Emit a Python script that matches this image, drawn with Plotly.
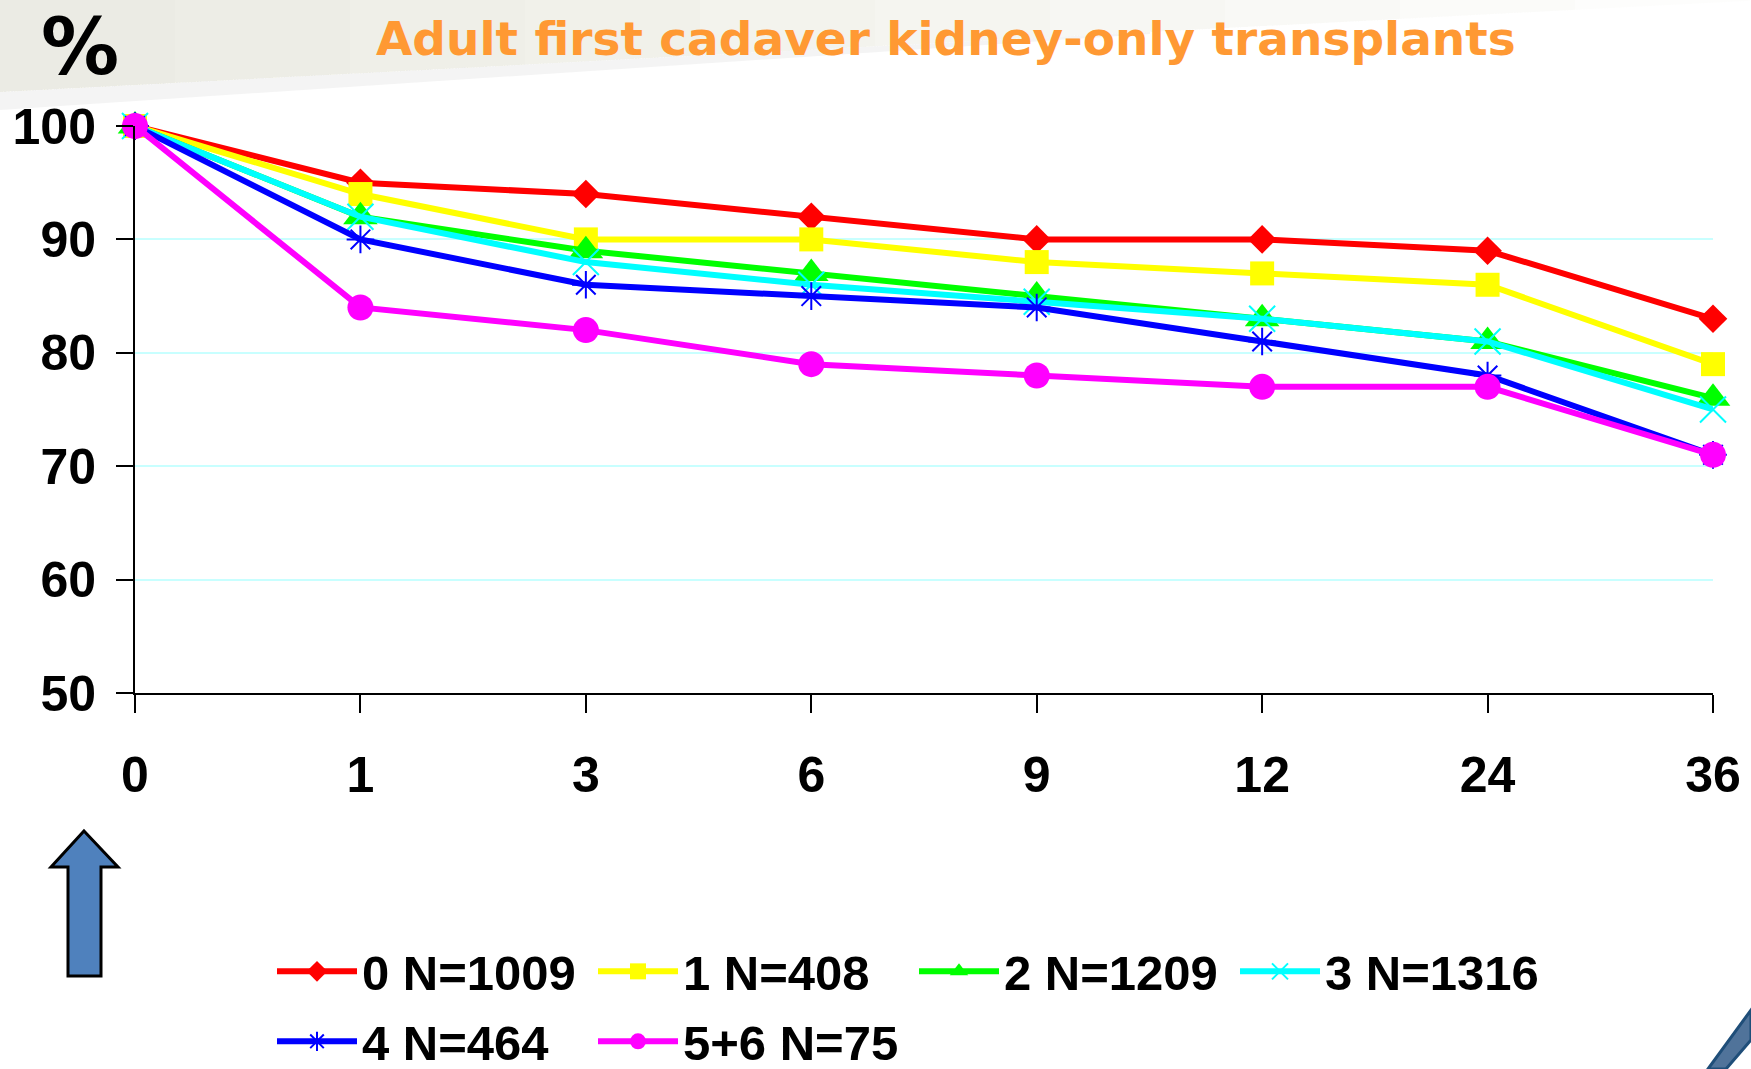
import plotly.graph_objects as go

# ---- data ----
months = ["0", "1", "3", "6", "9", "12", "24", "36"]
series_names = ["0 N=1009", "1 N=408", "2 N=1209", "3 N=1316", "4 N=464", "5+6 N=75"]
mm0 = [100, 95, 94, 92, 90, 90, 89, 83]
mm1 = [100, 94, 90, 90, 88, 87, 86, 79]
mm2 = [100, 92, 89, 87, 85, 83, 81, 76]
mm3 = [100, 92, 88, 86, 84.5, 83, 81, 75]
mm4 = [100, 90, 86, 85, 84, 81, 78, 71]
mm56 = [100, 84, 82, 79, 78, 77, 77, 71]
y_ticks = [50, 60, 70, 80, 90, 100]

values = [mm0, mm1, mm2, mm3, mm4, mm56]
colors = ["#FF0000", "#FFFF00", "#00FF00", "#00FFFF", "#0000FF", "#FF00FF"]
symbols = ["diamond", "square", "triangle-up", "x-thin", "asterisk", "circle"]
sizes = [22, 24, 30, 26, 23, 26]
legend_ids = ["legend", "legend", "legend", "legend", "legend2", "legend2"]

W, H = 1751, 1069
L, R, T, B = 135, 38, 126, 376
PW, PH = W - L - R, H - T - B


def px(x):
    return (x - L) / PW


def py(y):
    return (H - B - y) / PH


fig = go.Figure()
for name, vals, c, s, sz, lg in zip(series_names, values, colors, symbols, sizes, legend_ids):
    thin = s in ("x-thin", "asterisk")
    fig.add_trace(go.Scatter(
        x=months, y=vals, name=name, mode="lines+markers",
        line=dict(color=c, width=6),
        marker=dict(symbol=s, size=sz, color=c,
                    line=dict(color=c, width=2 if thin else 0)),
        cliponaxis=False, legend=lg,
    ))

font_fam = "Liberation Sans, Arial, sans-serif"
leg_font = dict(family=font_fam, size=49, color="black", weight="bold")

fig.update_layout(
    width=W, height=H, autosize=False,
    margin=dict(l=L, r=R, t=T, b=B, pad=0, autoexpand=False),
    paper_bgcolor="white", plot_bgcolor="white",
    showlegend=True,
    legend=dict(
        orientation="h", x=px(272), xanchor="left",
        y=py(933), yanchor="top", font=leg_font,
        bgcolor="rgba(0,0,0,0)", itemwidth=80, entrywidth=226,
    ),
    legend2=dict(
        orientation="h", x=px(272), xanchor="left",
        y=py(1003), yanchor="top", font=leg_font,
        bgcolor="rgba(0,0,0,0)", itemwidth=80, entrywidth=226,
    ),
    xaxis=dict(
        type="category", range=[0, 7], showgrid=False, zeroline=False,
        showline=True, linecolor="black", linewidth=2,
        ticks="outside", ticklen=18, tickwidth=2, tickcolor="black",
        tickfont=dict(family=font_fam, size=50, color="black", weight="bold"),
        ticklabelstandoff=19,
    ),
    yaxis=dict(
        range=[50, 100], tickvals=y_ticks, showgrid=True,
        gridcolor="#C8FFFF", gridwidth=2, zeroline=False,
        showline=True, linecolor="black", linewidth=2,
        ticks="outside", ticklen=17, tickwidth=2, tickcolor="black",
        tickfont=dict(family=font_fam, size=50, color="black", weight="bold"),
        ticklabelstandoff=10,
    ),
)


def to_path(pts):
    return "M " + " L ".join(f"{px(x):.5f},{py(y):.5f}" for x, y in pts) + " Z"


# ---- decorative background band (top-left), approximating a fading gradient ----
shapes = []
nlay = 10
for k in range(nlay):
    xr = 1750 * (k + 1) / nlay
    yb = max(92.0 - 0.0522 * xr, 0)
    pts = [(0, 0), (xr, 0), (xr, yb), (0, 92)]
    shapes.append(dict(type="path", xref="paper", yref="paper", path=to_path(pts),
                       fillcolor="rgba(214,208,190,0.05)", line=dict(width=0), layer="below"))
# lighter grey strip under the band
pts = [(0, 92), (1150, 32), (1150, 34), (0, 110)]
shapes.append(dict(type="path", xref="paper", yref="paper", path=to_path(pts),
                   fillcolor="rgba(228,228,228,0.4)", line=dict(width=0), layer="below"))

# blue up arrow (bottom-left)
arrow = [(84, 831), (118, 867), (101, 867), (101, 976), (68, 976), (68, 867), (51, 867)]
shapes.append(dict(type="path", xref="paper", yref="paper", path=to_path(arrow),
                   fillcolor="#4F81BD", line=dict(color="black", width=3)))

# partial arrow at bottom-right corner
corner = [(1708, 1069), (1751, 1010), (1751, 1040), (1726, 1069)]
shapes.append(dict(type="path", xref="paper", yref="paper", path=to_path(corner),
                   fillcolor="#50739A", line=dict(color="#1F4E79", width=3)))

fig.update_layout(shapes=shapes)

fig.add_annotation(text="Adult first cadaver kidney-only transplants",
                   xref="paper", yref="paper", x=px(946), y=py(39),
                   xanchor="center", yanchor="middle", showarrow=False,
                   font=dict(family="DejaVu Sans", size=47, color="#FF9933", weight="bold"))
fig.add_annotation(text="%", xref="paper", yref="paper",
                   x=px(80), y=py(0), xanchor="center", yanchor="top", showarrow=False,
                   font=dict(family="DejaVu Sans", size=78, color="black", weight="bold"))

fig.write_html(
    "out.html",
    config={"displayModeBar": False},
    post_script=["document.body.style.margin='0px';document.body.style.overflow='hidden';"],
)
